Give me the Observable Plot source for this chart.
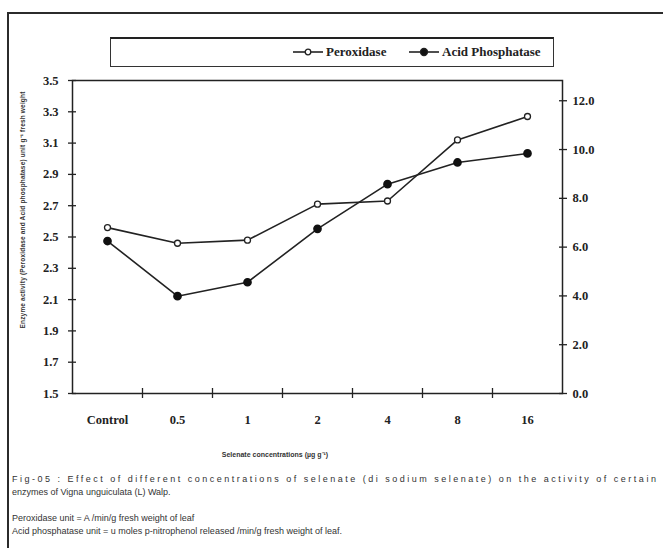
<!DOCTYPE html>
<html><head><meta charset="utf-8">
<script src="https://cdn.jsdelivr.net/npm/d3@7"></script>
<script src="https://cdn.jsdelivr.net/npm/@observablehq/plot@0.6"></script>
<style>
html,body{margin:0;padding:0;width:663px;height:548px;overflow:hidden;background:#fff;}
#frame{position:absolute;left:7px;top:12px;width:720px;height:600px;border-left:2px solid #2b2b2b;border-top:2px solid #2b2b2b;}
#chart{position:absolute;left:0;top:0;}
#legend{position:absolute;left:110px;top:37px;width:442px;height:27px;border:1.5px solid #333;border-top:2.5px solid #222;box-sizing:content-box;
  font-family:"Liberation Serif",serif;font-weight:bold;font-size:13px;color:#222;}
.leg{position:absolute;top:5px;display:flex;align-items:center;white-space:nowrap;}
.leg svg{margin-right:2px;}
#ytitle{position:absolute;left:22px;top:210px;transform:translate(-50%,-50%) rotate(-90deg);white-space:nowrap;
  font-family:"Liberation Sans",sans-serif;font-weight:bold;font-size:6.5px;color:#333;}
#xtitle{position:absolute;left:275px;top:450px;transform:translateX(-50%);white-space:nowrap;
  font-family:"Liberation Sans",sans-serif;font-weight:bold;font-size:7px;color:#333;}
.cap{position:absolute;left:12px;white-space:nowrap;font-family:"Liberation Sans",sans-serif;font-size:9px;color:#333;}
</style>
</head><body>
<div id="frame"></div>
<div id="chart"></div>
<div id="legend"></div>
<div id="ytitle"></div>
<div id="xtitle"></div>
<div id="cap1" class="cap" style="top:474px"></div>
<div id="cap2" class="cap" style="top:487px"></div>
<div id="cap3" class="cap" style="top:513px"></div>
<div id="cap4" class="cap" style="top:526px"></div>
<script>
// ---- data ----
const categories = ["Control", "0.5", "1", "2", "4", "8", "16"];
const peroxidase = [2.56, 2.46, 2.48, 2.71, 2.73, 3.12, 3.27];
const acidPhosphatase = [6.25, 3.99, 4.56, 6.75, 8.58, 9.47, 9.84];
const leftTicks = [1.5, 1.7, 1.9, 2.1, 2.3, 2.5, 2.7, 2.9, 3.1, 3.3, 3.5];
const rightTicks = [0, 2, 4, 6, 8, 10, 12];
const leftDomain = [1.5, 3.5];
const rightDomain = [0, 12.83];
const seriesNames = ["Peroxidase", "Acid Phosphatase"];
const xTitle = "Selenate concentrations (\u00b5g g\u207b\u00b9)";
const yTitle = "Enzyme activity (Peroxidase and Acid phosphatase) unit g\u207b\u00b9 fresh weight";
const captions = [
  "Fig-05 : Effect of different concentrations of selenate (di sodium selenate) on the activity of certain",
  "enzymes of Vigna unguiculata (L) Walp.",
  "Peroxidase unit = A /min/g fresh weight of leaf",
  "Acid phosphatase unit = u moles p-nitrophenol released /min/g fresh weight of leaf."
];

// map right-axis values onto the left scale
const toLeft = v => leftDomain[0] + (v - rightDomain[0]) / (rightDomain[1] - rightDomain[0]) * (leftDomain[1] - leftDomain[0]);
const fromLeft = y => rightDomain[0] + (y - leftDomain[0]) / (leftDomain[1] - leftDomain[0]) * (rightDomain[1] - rightDomain[0]);

const xPos = (d, i) => i + 0.5;
const centers = categories.map((c, i) => i + 0.5);
const bounds = categories.slice(1).map((c, i) => i + 1);
const ink = "#222";

const chart = Plot.plot({
  width: 663, height: 440,
  marginTop: 80, marginBottom: 47, marginLeft: 72, marginRight: 101,
  style: {fontFamily: "Liberation Serif, serif", fontSize: "12.5px", fontWeight: "bold", color: ink, background: "transparent"},
  x: {domain: [0, categories.length]},
  y: {domain: leftDomain},
  marks: [
    Plot.frame({stroke: ink, strokeWidth: 1.5}),
    Plot.axisY(leftTicks, {anchor: "left", tickSize: 4, tickPadding: 10, tickFormat: d3.format(".1f"), label: null, strokeWidth: 1.3}),
    Plot.axisY(leftTicks, {anchor: "left", tickSize: -4, tickFormat: () => "", label: null, strokeWidth: 1.3}),
    Plot.axisY(rightTicks.map(toLeft), {anchor: "right", tickSize: 4, tickPadding: 6, tickFormat: d => (Math.round(fromLeft(d) * 10) / 10).toFixed(1), label: null, strokeWidth: 1.3}),
    Plot.axisY(rightTicks.map(toLeft), {anchor: "right", tickSize: -4, tickFormat: () => "", label: null, strokeWidth: 1.3}),
    Plot.axisX(centers, {anchor: "bottom", tickSize: 0, tickPadding: 22, tickFormat: d => categories[Math.floor(d)], label: null}),
    Plot.axisX(bounds, {anchor: "bottom", tickSize: 5, tickFormat: () => "", label: null, strokeWidth: 1.3}),
    Plot.axisX(bounds, {anchor: "bottom", tickSize: -5, tickFormat: () => "", label: null, strokeWidth: 1.3}),
    Plot.line(peroxidase, {x: xPos, y: d => d, stroke: ink, strokeWidth: 1.6}),
    Plot.line(acidPhosphatase, {x: xPos, y: d => toLeft(d), stroke: ink, strokeWidth: 1.6}),
    Plot.dot(peroxidase, {x: xPos, y: d => d, r: 3, fill: "white", stroke: ink, strokeWidth: 1.3}),
    Plot.dot(acidPhosphatase, {x: xPos, y: d => toLeft(d), r: 3.6, fill: "#111", stroke: "#111"})
  ]
});
document.getElementById("chart").appendChild(chart);

// legend
const leg = document.getElementById("legend");
function swatch(filled) {
  return `<svg width="32" height="10"><line x1="1" y1="5" x2="31" y2="5" stroke="${ink}" stroke-width="1.6"/>` +
    `<circle cx="16" cy="5" r="${filled ? 3.5 : 2.8}" fill="${filled ? "#111" : "white"}" stroke="${ink}" stroke-width="1.3"/></svg>`;
}
leg.innerHTML =
  `<div class="leg" style="left:181px">${swatch(false)}<span>${seriesNames[0]}</span></div>` +
  `<div class="leg" style="left:297px">${swatch(true)}<span>${seriesNames[1]}</span></div>`;

document.getElementById("xtitle").textContent = xTitle;
const yt = document.getElementById("ytitle");
yt.textContent = yTitle;
// stretch y title to the reference length
const ytw = yt.getBoundingClientRect().height;
yt.style.letterSpacing = ((237 - ytw) / yTitle.length).toFixed(2) + "px";

captions.forEach((t, i) => { document.getElementById("cap" + (i + 1)).textContent = t; });
// first caption line is justified across the full width
const c1 = document.getElementById("cap1");
const w1 = c1.getBoundingClientRect().width;
c1.style.letterSpacing = ((646 - w1) / captions[0].length).toFixed(2) + "px";
</script>
</body></html>
